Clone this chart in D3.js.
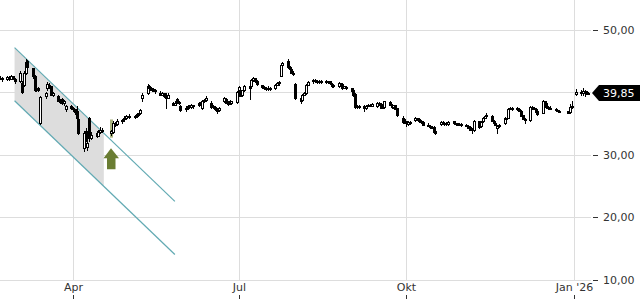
<!DOCTYPE html>
<html lang="de">
<head>
    <meta charset="UTF-8">
    <script src="https://cdn.jsdelivr.net/npm/d3@7"></script>
    <title>Kursverlauf</title>
    <style>
        html, body {
            margin: 0px;
            padding: 0px;
            background-color: #ffffff;
            font-family: "DejaVu Sans", sans-serif;
        }
        #chart {
            width: 640px;
            height: 300px;
        }
    </style>
</head>
<body>
    <div id="chart"></div>
    <script>

        // daily candles [open, high, low, close], one row per trading day from 20.02.2025
        let ohlc = [
            // Feb
            [42.2,42.5,42.0,42.3],[42.3,42.4,41.8,42.0],[42.0,42.6,41.9,42.4],[42.4,42.5,41.9,42.1],
            [42.1,42.7,42.0,42.5],[42.5,42.6,42.0,42.2],[42.1,42.2,41.5,41.7],
            // Mar
            [41.8,43.3,41.6,43.0],[41.5,41.7,39.8,40.0],[41.2,43.3,41.0,43.1],[43.1,45.2,42.9,44.8],
            [44.9,45.1,43.8,44.0],[43.8,43.9,42.2,42.6],[42.6,42.8,40.2,40.4],[40.5,41.0,40.2,40.6],
            [40.6,40.8,40.1,40.3],[35.0,39.4,34.9,39.2],[39.3,40.0,39.0,39.8],[40.6,41.6,40.4,41.3],
            [41.2,41.5,40.7,40.9],[40.9,41.0,39.5,39.6],[39.6,40.0,39.4,39.8],[39.4,39.6,38.5,38.6],
            [38.6,38.9,38.3,38.5],[38.9,39.1,38.1,38.2],[38.2,38.7,38.0,38.5],[37.2,38.0,37.0,37.8],
            [37.7,37.9,37.2,37.4],
            // Apr
            [37.4,37.6,37.0,37.2],[37.2,37.3,36.5,36.8],[36.9,37.8,35.6,35.8],[35.7,35.9,33.3,33.5],
            [31.0,33.8,30.6,33.5],[33.8,34.2,32.1,32.3],[31.2,32.5,30.8,31.9],[35.8,36.0,32.2,32.6],
            [32.7,33.6,32.5,33.2],[33.4,33.7,32.8,33.0],[33.0,33.9,32.9,33.6],[33.6,34.4,33.4,34.0],
            [34.0,34.3,33.6,33.8],[33.5,34.0,33.2,33.8],[33.6,35.3,33.4,35.0],[35.0,35.2,34.6,34.8],
            [34.9,35.6,34.8,35.4],[35.3,35.7,35.1,35.5],[35.6,36.1,35.4,35.9],[35.8,36.3,35.7,36.1],
            // May
            [36.0,36.5,35.8,36.2],[36.2,36.4,35.8,36.0],[36.1,36.7,36.0,36.5],[36.5,36.7,36.2,36.4],
            [36.6,37.3,36.5,37.1],[39.0,39.8,38.6,39.6],[39.9,41.3,39.7,41.0],[41.0,41.2,40.5,40.6],
            [40.6,40.8,40.3,40.4],[40.5,40.7,40.1,40.2],[40.3,40.5,39.9,40.1],[39.9,40.1,39.5,39.6],
            [39.6,40.0,39.5,39.8],[39.8,39.9,39.2,39.3],[39.4,39.8,37.5,39.0],[39.1,39.8,39.0,39.6],
            [38.2,38.4,37.9,38.0],[38.0,38.5,37.9,38.3],[38.9,39.1,38.2,38.3],[38.3,38.6,38.1,38.4],
            [37.8,37.9,37.0,37.1],
            // Jun
            [37.2,37.7,37.0,37.5],[37.5,37.9,37.3,37.8],[37.8,37.9,37.4,37.6],[37.6,38.1,37.5,37.9],
            [37.9,38.0,37.5,37.7],[37.9,38.4,37.8,38.3],[38.3,38.4,37.9,38.1],[37.4,38.8,37.3,38.6],
            [38.6,38.9,38.4,38.7],[38.7,39.3,38.6,39.1],[38.3,38.6,37.5,37.6],[37.7,37.9,37.4,37.6],
            [37.6,37.7,37.1,37.2],[37.3,37.4,36.6,37.0],[37.1,37.6,37.0,37.4],[38.5,39.2,38.4,39.1],
            [38.9,39.0,38.2,38.3],[38.3,38.5,37.9,38.1],[38.6,38.7,38.1,38.2],[38.2,38.6,38.1,38.5],
            [38.4,40.2,38.2,40.0],
            // Jul
            [39.8,41.0,39.6,40.8],[40.4,40.6,39.3,39.4],[39.5,40.4,39.4,40.3],[40.3,41.1,40.2,40.9],
            [40.9,41.4,38.9,40.6],[40.9,42.0,40.8,41.9],[41.9,42.4,41.7,42.2],[42.2,42.3,41.6,41.7],
            [41.8,41.9,41.2,41.3],[41.1,41.2,40.7,40.8],[40.8,41.0,40.5,40.6],[40.6,40.8,40.4,40.5],
            [40.5,40.9,40.4,40.7],[40.7,40.8,40.3,40.5],[40.6,41.3,40.5,41.2],[41.2,41.6,41.1,41.5],
            [41.4,41.7,41.2,41.6],[42.6,44.6,42.5,44.3],[44.3,44.8,44.1,44.6],[45.0,45.2,43.9,44.0],
            [44.0,44.2,43.6,43.7],[43.7,43.8,43.0,43.1],[43.1,43.3,42.8,42.9],
            // Aug
            [41.3,41.4,38.9,39.0],[39.0,39.1,38.3,38.6],[38.7,39.7,38.6,39.6],[39.6,40.0,39.5,39.8],
            [39.8,41.3,39.7,41.2],[41.2,41.7,41.1,41.6],[41.7,42.0,41.5,41.9],[41.9,42.0,41.6,41.7],
            [41.7,41.9,41.5,41.8],[41.8,41.9,41.5,41.6],[41.6,41.9,41.5,41.8],[41.8,41.9,41.5,41.6],
            [41.6,41.8,41.4,41.7],[41.7,41.8,41.3,41.4],[41.3,41.4,40.8,40.9],[40.9,41.3,40.8,41.2],
            [40.9,41.6,40.8,41.5],[41.4,41.5,41.0,41.1],[41.3,41.4,40.5,40.6],[40.7,41.0,40.6,40.9],
            [40.8,40.9,40.5,40.6],
            // Sep
            [40.6,40.7,40.1,40.2],[40.3,40.4,39.4,39.5],[39.7,39.9,37.5,37.6],[37.6,37.9,37.4,37.8],
            [37.8,37.9,37.4,37.6],[37.8,37.9,37.0,37.4],[37.4,37.9,37.3,37.8],[37.8,38.1,37.7,38.0],
            [38.0,38.1,37.7,37.8],[37.8,38.2,37.7,38.1],[37.7,38.4,37.6,38.3],[38.3,38.4,37.9,38.0],
            [38.1,38.2,37.4,37.5],[37.5,37.9,37.4,37.8],[37.6,38.6,37.5,38.5],[38.4,38.5,37.9,38.0],
            [38.0,38.1,37.5,37.6],[37.6,38.0,37.5,37.9],[37.9,38.0,37.2,37.3],[37.4,37.5,36.2,36.3],
            [35.2,36.1,35.1,35.9],[35.6,35.7,35.1,35.2],
            // Okt
            [35.3,35.4,34.6,35.0],[34.9,35.3,34.8,35.2],[35.2,35.3,34.9,35.1],[35.5,36.0,35.4,35.8],
            [35.8,35.9,35.5,35.6],[35.7,35.8,35.2,35.3],[35.3,35.5,35.1,35.2],[35.2,35.3,34.7,34.8],
            [34.8,35.0,34.5,34.6],[34.6,34.8,34.3,34.4],[34.4,34.6,34.2,34.3],[34.4,34.5,33.5,33.6],
            [33.7,33.8,33.3,33.5],[34.9,35.4,34.8,35.2],[35.2,35.3,34.9,35.0],[35.0,35.2,34.8,35.1],
            [35.1,35.2,34.8,34.9],[34.9,35.3,34.8,35.2],[35.3,35.4,35.0,35.1],[35.1,35.2,34.9,35.0],
            [35.0,35.1,34.7,34.8],[34.8,35.0,34.7,34.9],[34.9,35.0,34.6,34.7],
            // Nov
            [34.7,34.9,34.5,34.6],[34.6,34.7,34.2,34.3],[34.4,34.5,33.9,34.0],[34.0,34.2,33.5,34.1],
            [33.9,35.5,33.7,35.3],[35.3,35.4,34.3,34.4],[34.5,35.3,34.4,35.2],[35.3,36.0,35.2,35.9],
            [35.9,36.2,35.8,36.1],[36.1,36.6,36.0,36.4],[36.2,36.3,35.3,35.4],[35.4,35.5,35.0,35.1],
            [35.1,35.2,34.7,34.8],[34.2,34.8,33.5,34.5],[34.5,34.9,34.4,34.8],[35.0,36.0,34.9,35.9],
            [35.8,35.9,35.5,35.6],[35.9,37.4,35.8,37.3],[37.3,37.6,37.2,37.5],[37.5,37.6,37.1,37.2],
            // Dez
            [37.2,37.6,37.1,37.4],[37.3,37.4,36.9,37.0],[37.0,37.1,36.1,36.2],[36.3,36.4,35.6,35.7],
            [35.7,35.8,35.1,35.5],[35.5,37.8,35.4,37.6],[37.6,37.7,37.2,37.3],[37.3,37.6,37.2,37.4],
            [37.3,37.4,36.7,36.8],[36.9,37.0,36.4,36.5],[36.7,38.7,36.6,38.5],[38.5,38.6,38.1,38.2],
            [38.3,38.4,37.5,37.6],[37.6,37.7,37.3,37.4],[37.4,37.7,37.3,37.5],[37.3,37.4,37.0,37.1],
            [37.1,37.2,36.9,37.0],[37.0,37.1,36.8,36.9],[36.9,37.0,36.6,36.7],[36.8,38.1,36.7,37.6],
            [37.6,38.6,37.5,37.8],
            // Jan
            [39.7,40.5,39.5,40.0],[40.0,40.4,39.5,39.8],[39.8,40.6,39.6,40.1],[40.1,40.3,39.4,39.9],
            [39.9,40.2,39.7,39.9],[39.9,40.0,39.8,39.85]
        ];

        let first_day = '2025-02-20';
        let closed_days = ['2025-04-18', '2025-04-21', '2025-05-01', '2025-12-25', '2025-12-26', '2026-01-01'];

        let y_ticks = [10, 20, 30, 40, 50];
        let x_ticks = ['2025-04-01', '2025-07-01', '2025-10-01', '2026-01-01'];
        let x_tick_labels = ['Apr', 'Jul', 'Okt', "Jan '26"];

        // trend channel: [date, upper, lower]
        let channel_start = ['2025-02-28', 47.1, 38.6];
        let channel_end = ['2025-05-27', 22.5, 14.0];
        let channel_fill_end = '2025-04-18';

        // buy signal
        let signal_day = '2025-04-22';
        let signal_price = 31.0;
        let signal_bar = [32.7, 35.6];

        let last_price = 39.85;

        let parse = d3.timeParse('%Y-%m-%d');
        let fmt = d3.timeFormat('%Y-%m-%d');

        // trading days
        let days = [];
        let d = parse(first_day);
        while (days.length < ohlc.length) {
            if (d.getDay() !== 0 && d.getDay() !== 6 && !closed_days.includes(fmt(d))) {
                days.push(new Date(d));
            }
            d = d3.timeDay.offset(d, 1);
        }
        let candles = ohlc.map((r, i) => ({ date: days[i], o: r[0], h: r[1], l: r[2], c: r[3] }));

        let width = 640;
        let height = 300;
        let plot_right = 591;

        let svg = d3.select('#chart').append('svg').attr('width', width).attr('height', height);

        let x = d3.scaleTime()
            .domain([new Date(2025, 1, 20), new Date(2026, 0, 11)])
            .range([0, 592]);
        let y = d3.scaleLinear()
            .domain([10, 50])
            .range([279.5, 29.5]);

        let px = (v) => Math.round(x(v));
        let py = (v) => Math.round(y(v)) + 0.5;

        // grid
        svg.append('g').selectAll('line')
            .data(y_ticks)
            .join('line')
            .attr('x1', 0).attr('x2', plot_right)
            .attr('y1', (v) => py(v)).attr('y2', (v) => py(v))
            .attr('stroke', '#dddddd');

        svg.append('g').selectAll('line')
            .data(x_ticks)
            .join('line')
            .attr('x1', (v) => px(parse(v)) + 0.5).attr('x2', (v) => px(parse(v)) + 0.5)
            .attr('y1', 0).attr('y2', 280)
            .attr('stroke', '#dddddd');

        // channel
        let t0 = parse(channel_start[0]), t1 = parse(channel_end[0]);
        let channel_at = (t, k) => {
            let f = (t - t0) / (t1 - t0);
            return channel_start[k] + (channel_end[k] - channel_start[k]) * f;
        };
        let tf = parse(channel_fill_end);
        let fill_pts = [
            [x(t0), y(channel_start[1])],
            [x(tf), y(channel_at(tf, 1))],
            [x(tf), y(channel_at(tf, 2))],
            [x(t0), y(channel_start[2])]
        ];
        svg.append('polygon')
            .attr('points', fill_pts.map((p) => p.join(',')).join(' '))
            .attr('fill', '#dddddd');

        svg.append('g').selectAll('line')
            .data([1, 2])
            .join('line')
            .attr('x1', x(t0)).attr('y1', (k) => y(channel_start[k]))
            .attr('x2', x(t1)).attr('y2', (k) => y(channel_end[k]))
            .attr('stroke', '#62aab3')
            .attr('stroke-width', 1.2);

        // signal bar
        let sx = px(parse(signal_day));
        svg.append('rect')
            .attr('x', sx - 1).attr('width', 3)
            .attr('y', y(signal_bar[1])).attr('height', y(signal_bar[0]) - y(signal_bar[1]))
            .attr('fill', '#8d9b55')
            .attr('opacity', 0.75);

        // candles
        let g = svg.append('g');
        g.selectAll('line')
            .data(candles)
            .join('line')
            .attr('x1', (c) => px(c.date) + 0.5).attr('x2', (c) => px(c.date) + 0.5)
            .attr('y1', (c) => Math.round(y(c.h))).attr('y2', (c) => Math.round(y(c.l)) + 1)
            .attr('stroke', '#000');

        g.selectAll('rect')
            .data(candles)
            .join('rect')
            .each(function (c) {
                let top = Math.round(y(Math.max(c.o, c.c)));
                let bot = Math.round(y(Math.min(c.o, c.c)));
                let r = d3.select(this);
                if (c.c >= c.o) {
                    r.attr('x', px(c.date) - 0.5).attr('width', 2)
                        .attr('y', top + 0.5).attr('height', Math.max(1, bot - top))
                        .attr('fill', '#fff').attr('stroke', '#000');
                } else {
                    r.attr('x', px(c.date) - 1).attr('width', 3)
                        .attr('y', top).attr('height', Math.max(2, bot - top + 1))
                        .attr('fill', '#000');
                }
            });

        // arrow
        let ay = y(signal_price);
        let arrow = [
            [sx, ay], [sx + 8, ay + 10], [sx + 4.5, ay + 10], [sx + 4.5, ay + 21],
            [sx - 4, ay + 21], [sx - 4, ay + 10], [sx - 7.5, ay + 10]
        ];
        svg.append('polygon')
            .attr('points', arrow.map((p) => p.join(',')).join(' '))
            .attr('fill', '#6a7d33');

        // y axis
        let ya = svg.append('g');
        ya.selectAll('line')
            .data(y_ticks)
            .join('line')
            .attr('x1', 593).attr('x2', 598)
            .attr('y1', (v) => py(v)).attr('y2', (v) => py(v))
            .attr('stroke', '#333');
        ya.selectAll('text')
            .data(y_ticks)
            .join('text')
            .attr('x', 603)
            .attr('y', (v) => y(v) + 4)
            .attr('font-size', '11px')
            .attr('fill', '#333')
            .text((v) => d3.format('.2f')(v).replace('.', ','));

        // x axis
        let xa = svg.append('g');
        xa.selectAll('text')
            .data(x_ticks)
            .join('text')
            .attr('x', (v) => px(parse(v)) + 0.5)
            .attr('y', 291)
            .attr('text-anchor', 'middle')
            .attr('font-size', '11px')
            .attr('fill', '#333')
            .text((v, i) => x_tick_labels[i]);
        xa.selectAll('line')
            .data(x_ticks)
            .join('line')
            .attr('x1', (v) => px(parse(v)) + 0.5).attr('x2', (v) => px(parse(v)) + 0.5)
            .attr('y1', 295).attr('y2', 299)
            .attr('stroke', '#333');

        // last price label
        let ly = y(last_price);
        let label = [[592, ly], [599, ly - 8], [640, ly - 8], [640, ly + 8], [599, ly + 8]];
        svg.append('polygon')
            .attr('points', label.map((p) => p.join(',')).join(' '))
            .attr('fill', '#000');
        svg.append('text')
            .attr('x', 603)
            .attr('y', ly + 4)
            .attr('font-size', '11px')
            .attr('fill', '#fff')
            .text(d3.format('.2f')(last_price).replace('.', ','));

    </script>
</body>
</html>
